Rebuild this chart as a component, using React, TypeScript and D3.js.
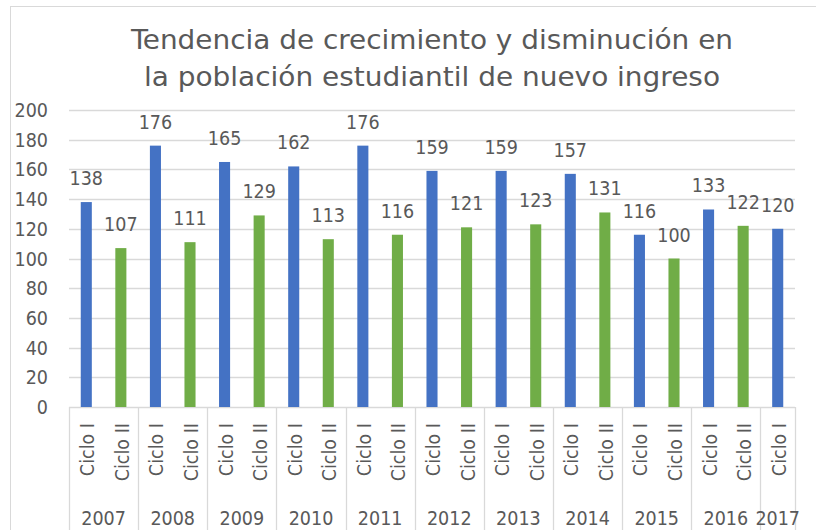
import React from 'react';
import * as d3 from 'd3';

const years = ['2007', '2008', '2009', '2010', '2011', '2012', '2013', '2014', '2015', '2016', '2017'];
const cycles = ['Ciclo I', 'Ciclo II', 'Ciclo I', 'Ciclo II', 'Ciclo I', 'Ciclo II', 'Ciclo I', 'Ciclo II', 'Ciclo I', 'Ciclo II', 'Ciclo I', 'Ciclo II', 'Ciclo I', 'Ciclo II', 'Ciclo I', 'Ciclo II', 'Ciclo I', 'Ciclo II', 'Ciclo I', 'Ciclo II', 'Ciclo I'];
const barYears = ['2007', '2007', '2008', '2008', '2009', '2009', '2010', '2010', '2011', '2011', '2012', '2012', '2013', '2013', '2014', '2014', '2015', '2015', '2016', '2016', '2017'];
const values = [138, 107, 176, 111, 165, 129, 162, 113, 176, 116, 159, 121, 159, 123, 157, 131, 116, 100, 133, 122, 120];
const yTicks = [0, 20, 40, 60, 80, 100, 120, 140, 160, 180, 200];
const titleLines = ['Tendencia de crecimiento y disminución en', 'la población estudiantil de nuevo ingreso'];

const W = 816;
const H = 530;
const left = 69;
const right = 795;
const top = 110;
const bottom = 407;
const FONT = "'DejaVu Sans Condensed', 'DejaVu Sans', sans-serif";
const FS = 19.5;
const TEXT = '#595959';
const GRID = '#d9d9d9';
const BLUE = '#4472C4';
const GREEN = '#70AD47';

export default function App() {
  const idx = values.map((_, i) => i);
  const x = d3.scaleBand<number>().domain(idx).range([left, right]).paddingInner(0.68).paddingOuter(0.34);
  const y = d3.scaleLinear().domain([0, 200]).range([bottom, top]);
  const step = x.step();
  const bandStart = (i: number) => left + i * step;

  const groups = years.map((yr) => {
    const members = idx.filter((i) => barYears[i] === yr);
    const s = bandStart(members[0]);
    const e = bandStart(members[members.length - 1]) + step;
    return { yr, s, e };
  });
  const seps = [left, ...groups.map((g) => g.e)];

  return (
    <svg width={W} height={H} style={{ position: 'absolute', left: 0, top: 0, background: '#fff' }} fontFamily={FONT}>
      <rect x={10.5} y={6.5} width={W + 20} height={H + 20} fill="#fff" stroke={GRID} strokeWidth={1} />
      {titleLines.map((t, i) => (
        <text key={i} x={432} y={49 + i * 37} textAnchor="middle" fontSize={27} fill={TEXT} textLength={i === 0 ? 602 : 576} lengthAdjust="spacingAndGlyphs">
          {t}
        </text>
      ))}
      {yTicks.map((t) => (
        <g key={t}>
          <line x1={left} x2={right} y1={Math.round(y(t)) + 0.5} y2={Math.round(y(t)) + 0.5} stroke={GRID} strokeWidth={1.3} />
          <text x={48} y={y(t) + 7} textAnchor="end" fontSize={FS} fill={TEXT}>
            {t}
          </text>
        </g>
      ))}
      {seps.map((sx, i) => (
        <line key={i} x1={Math.round(sx) + 0.5} x2={Math.round(sx) + 0.5} y1={bottom} y2={H} stroke={GRID} strokeWidth={1.3} />
      ))}
      {idx.map((i) => {
        const v = values[i];
        const bx = x(i) as number;
        const cx = bx + x.bandwidth() / 2;
        return (
          <g key={i}>
            <rect x={bx} y={y(v)} width={x.bandwidth()} height={bottom - y(v)} fill={cycles[i] === 'Ciclo I' ? BLUE : GREEN} />
            <text x={cx} y={y(v) - 17} textAnchor="middle" fontSize={FS} fill={TEXT}>
              {v}
            </text>
            <text transform={`translate(${cx + 8},${423}) rotate(-90)`} textAnchor="end" fontSize={FS} fill={TEXT}>
              {cycles[i]}
            </text>
          </g>
        );
      })}
      {groups.map((g) => (
        <text key={g.yr} x={(g.s + g.e) / 2} y={525} textAnchor="middle" fontSize={FS} fill={TEXT}>
          {g.yr}
        </text>
      ))}
    </svg>
  );
}
